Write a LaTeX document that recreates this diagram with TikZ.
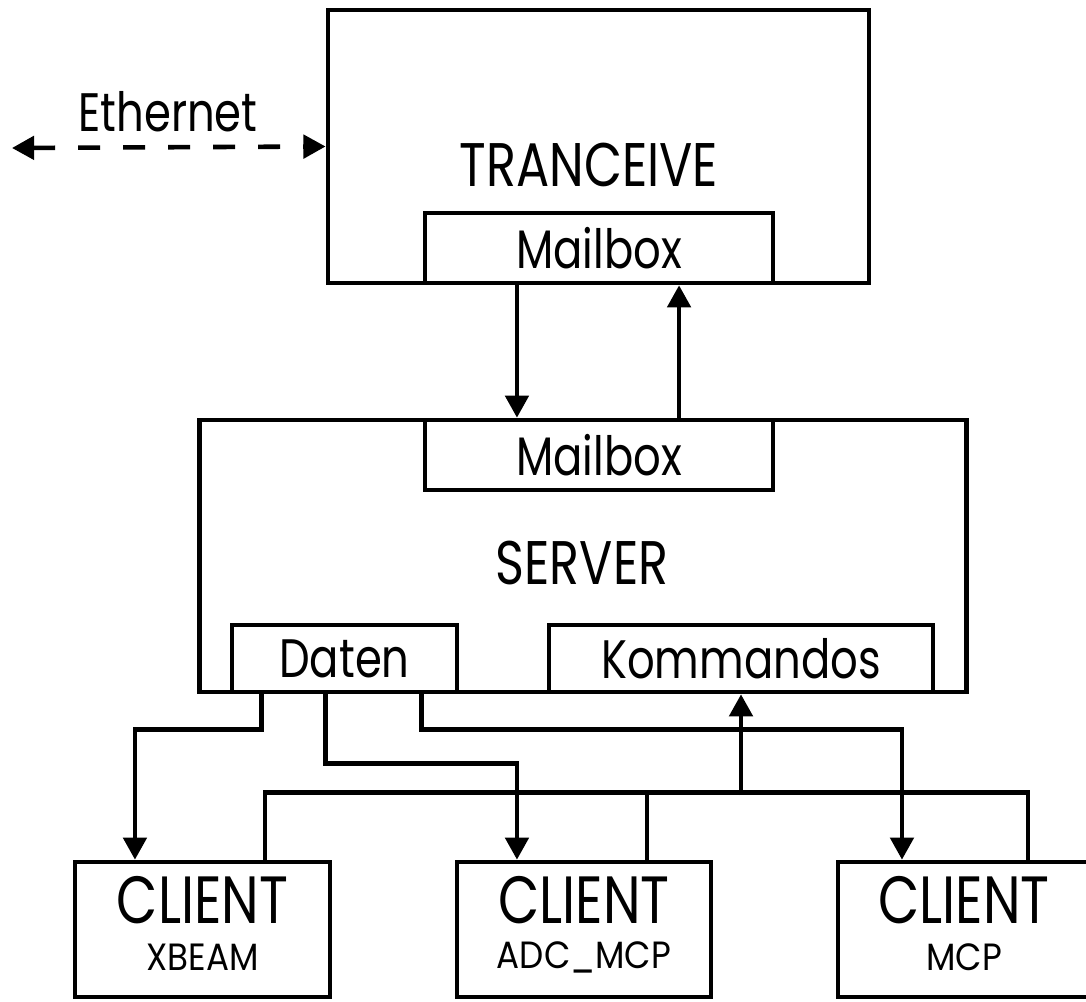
\documentclass[tikz,border=0pt]{standalone}
\usepackage{fontspec}
\setmainfont{Poppins}[FakeStretch=0.8]
\newfontfamily\widefont{Poppins}[FakeStretch=0.9]
\usetikzlibrary{arrows.meta}
\begin{document}
\begin{tikzpicture}[x=0.01cm,y=-0.01cm,line width=1.3pt,
  box/.style={draw,rectangle,inner sep=0pt,line width=1.3pt},
  lbl/.style={inner sep=0pt,font=\fontsize{15.4}{17}\selectfont},
  big/.style={inner sep=0pt,font=\fontsize{17.5}{19}\selectfont},
  arr/.style={-{Triangle[length=6.3pt,width=6.6pt]}},
  arrb/.style={{Triangle[length=6.3pt,width=6.6pt]}-{Triangle[length=6.3pt,width=6.6pt]}},
  dsh/.style={dash pattern=on 6.3pt off 6.5pt}]
\useasboundingbox (0,0) rectangle (1086,1001);
% boxes
\node[box,minimum width=5.41cm,minimum height=2.73cm] (tr) at (598.5,146.5) {};
\node[big] (trl) at (589,165) {TRANCEIVE};
\node[box,fill=white,minimum width=3.48cm,minimum height=0.70cm,lbl] (mb1) at (599,248) {Mailbox};
\node[box,minimum width=7.66cm,minimum height=2.72cm] (srv) at (583,556) {};
\node[big] (srvl) at (582,563) {SERVER};
\node[box,fill=white,minimum width=3.48cm,minimum height=0.70cm,lbl] (mb2) at (599,455) {Mailbox};
\node[box,fill=white,minimum width=2.25cm,minimum height=0.67cm,lbl] (daten) at (344.5,658.5) {Daten};
\node[box,fill=white,minimum width=3.84cm,minimum height=0.67cm,lbl] (kom) at (741,658.5) {Kommandos};
\node[box,minimum width=2.55cm,minimum height=1.35cm] (c1) at (202.5,929.5) {};
\node[box,minimum width=2.54cm,minimum height=1.35cm] (c2) at (584,929.5) {};
\node[box,minimum width=2.52cm,minimum height=1.35cm] (c3) at (964,929.5) {};
\foreach \n/\t in {c1/XBEAM,c2/ADC\_MCP,c3/MCP}{
  \node[inner sep=0pt,text depth=0pt,font=\fontsize{19}{21}\selectfont] (\n a) at ([yshift=0.30cm]\n.center) {CLIENT};
  \node[inner sep=0pt,text height=7.5pt,font=\widefont\fontsize{10.8}{12}\selectfont] (\n b) at ([yshift=-0.28cm]\n.center) {\t};
}
% ethernet
\coordinate (eth) at (12,148);
\draw[arrb,dsh] (eth) -- (tr.west);
\node[lbl] (ethl) at (168,112) {Ethernet};
% mailbox links
\draw[arr] ([xshift=-0.82cm]mb1.south) -- ([xshift=-0.82cm]mb2.north);
\draw[arr] ([xshift=0.80cm]mb2.north) -- ([xshift=0.80cm]mb1.south);
% daten to clients
\draw[arr] ([xshift=0.32cm]daten.south west) -- ++(0,35) -| ([xshift=-0.675cm]c1.north);
\draw[arr] ([xshift=0.96cm]daten.south west) -- ++(0,69) -| ([xshift=-0.67cm]c2.north);
\draw[arr] ([xshift=1.92cm]daten.south west) -- ++(0,35) -| ([xshift=-0.62cm]c3.north);
% clients to kommandos
\coordinate (ret) at (741,795);
\draw ([xshift=0.625cm]c1.north) -- ++(0,-67) -| ([xshift=0.64cm]c3.north);
\draw ([xshift=0.63cm]c2.north) -- ++(0,-67);
\draw[arr] (ret) -- (kom.south);
\end{tikzpicture}
\end{document}
